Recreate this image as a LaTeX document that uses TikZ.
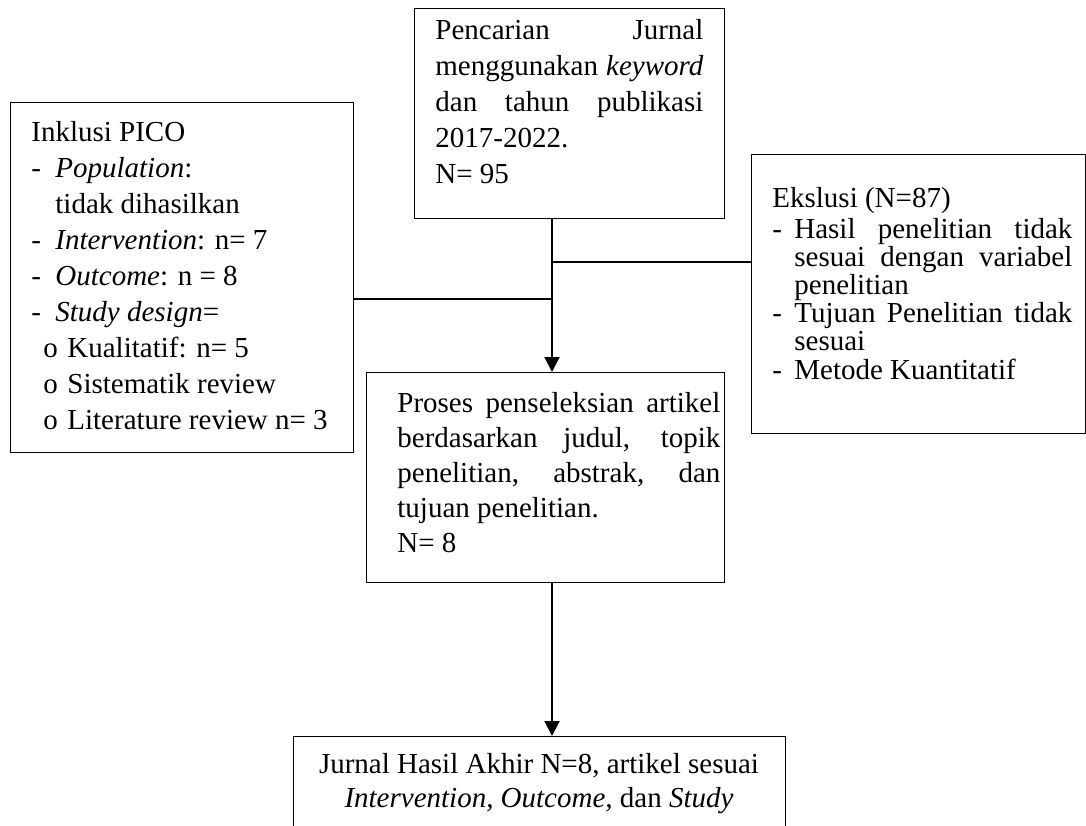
\documentclass[tikz,border=0pt]{standalone}
\usepackage{fontspec}
\setmainfont{Liberation Serif}
\usetikzlibrary{arrows.meta}
\lineskiplimit=-20pt
\parskip=0pt
\begin{document}
\begin{tikzpicture}[x=0.5pt, y=-0.5pt,
    box/.style={draw, line width=0.6pt, inner sep=0, anchor=north west},
    bodytxt/.style={inner sep=0, anchor=north west, font=\fontsize{14.5}{18}\selectfont},
    link/.style={line width=1pt},
    flow/.style={line width=1pt, -{Triangle[width=7.5pt,length=7.5pt]}}]
    \useasboundingbox (0,0) rectangle (1086,825);
    \clip (0,0) rectangle (1086,825);

    % Search
    \node[box, minimum width=155pt, minimum height=105pt] (search) at (414,8) {};
    \node[bodytxt, text width=134pt, align=justify] (searchtxt) at (435,14)
        {\strut Pencarian Jurnal\linebreak menggunakan \textit{keyword}\linebreak dan tahun publikasi\linebreak 2017-2022.\\N= 95};

    % Inclusion (PICO)
    \node[box, minimum width=171.5pt, minimum height=175pt] (incl) at (10,102) {};
    \node[bodytxt, align=left] (incltxt) at (31,116)
        {\strut Inklusi PICO\\
         \makebox[12pt][l]{-}\textit{Population}:\\
         \hspace*{12pt}tidak dihasilkan\\
         \makebox[12pt][l]{-}\textit{Intervention}: n= 7\\
         \makebox[12pt][l]{-}\textit{Outcome}: n = 8\\
         \makebox[12pt][l]{-}\textit{Study design}=\\
         \hspace*{6pt}\makebox[12pt][l]{o}Kualitatif: n= 5\\
         \hspace*{6pt}\makebox[12pt][l]{o}Sistematik review\\
         \hspace*{6pt}\makebox[12pt][l]{o}Literature review n= 3};

    % Exclusion
    \node[box, minimum width=167pt, minimum height=139.5pt] (excl) at (751,154) {};
    \node[bodytxt, text width=150pt, align=justify, font=\fontsize{14.5}{14.1}\selectfont] (excltxt) at (772,187)
        {\strut Ekslusi (N=87)\par
         \noindent\hangindent=11pt\hangafter=1\makebox[11pt][l]{-}Hasil penelitian tidak\linebreak sesuai dengan variabel\linebreak penelitian\par
         \noindent\hangindent=11pt\hangafter=1\makebox[11pt][l]{-}Tujuan Penelitian tidak\linebreak sesuai\par
         \noindent\hangindent=11pt\hangafter=1\makebox[11pt][l]{-}Metode Kuantitatif};

    % Selection
    \node[box, minimum width=179pt, minimum height=105pt] (select) at (366,372) {};
    \node[bodytxt, text width=161.5pt, align=justify, font=\fontsize{14.5}{17.5}\selectfont] (selecttxt) at (397,387.5)
        {\strut Proses penseleksian artikel\linebreak berdasarkan judul, topik\linebreak penelitian, abstrak, dan\linebreak tujuan penelitian.\\N= 8};

    % Final result (runs off the page)
    \node[box, minimum width=246pt, minimum height=90pt] (final) at (293,736) {};
    \node[bodytxt, anchor=north, align=center, font=\fontsize{14.5}{17}\selectfont] (finaltxt) at (539,749)
        {\strut Jurnal Hasil Akhir N=8, artikel sesuai\\\textit{Intervention, Outcome,} dan \textit{Study}};

    % Connectors
    \coordinate (spine) at (552,0);
    \coordinate (jexcl) at (552,262);
    \coordinate (jincl) at (552,299);
    \draw[flow] (search.south -| spine) -- (select.north -| spine);
    \draw[link] (jexcl) -- (jexcl -| excl.west);
    \draw[link] (incl.east |- jincl) -- (jincl);
    \draw[flow] (select.south -| spine) -- (final.north -| spine);
\end{tikzpicture}
\end{document}
